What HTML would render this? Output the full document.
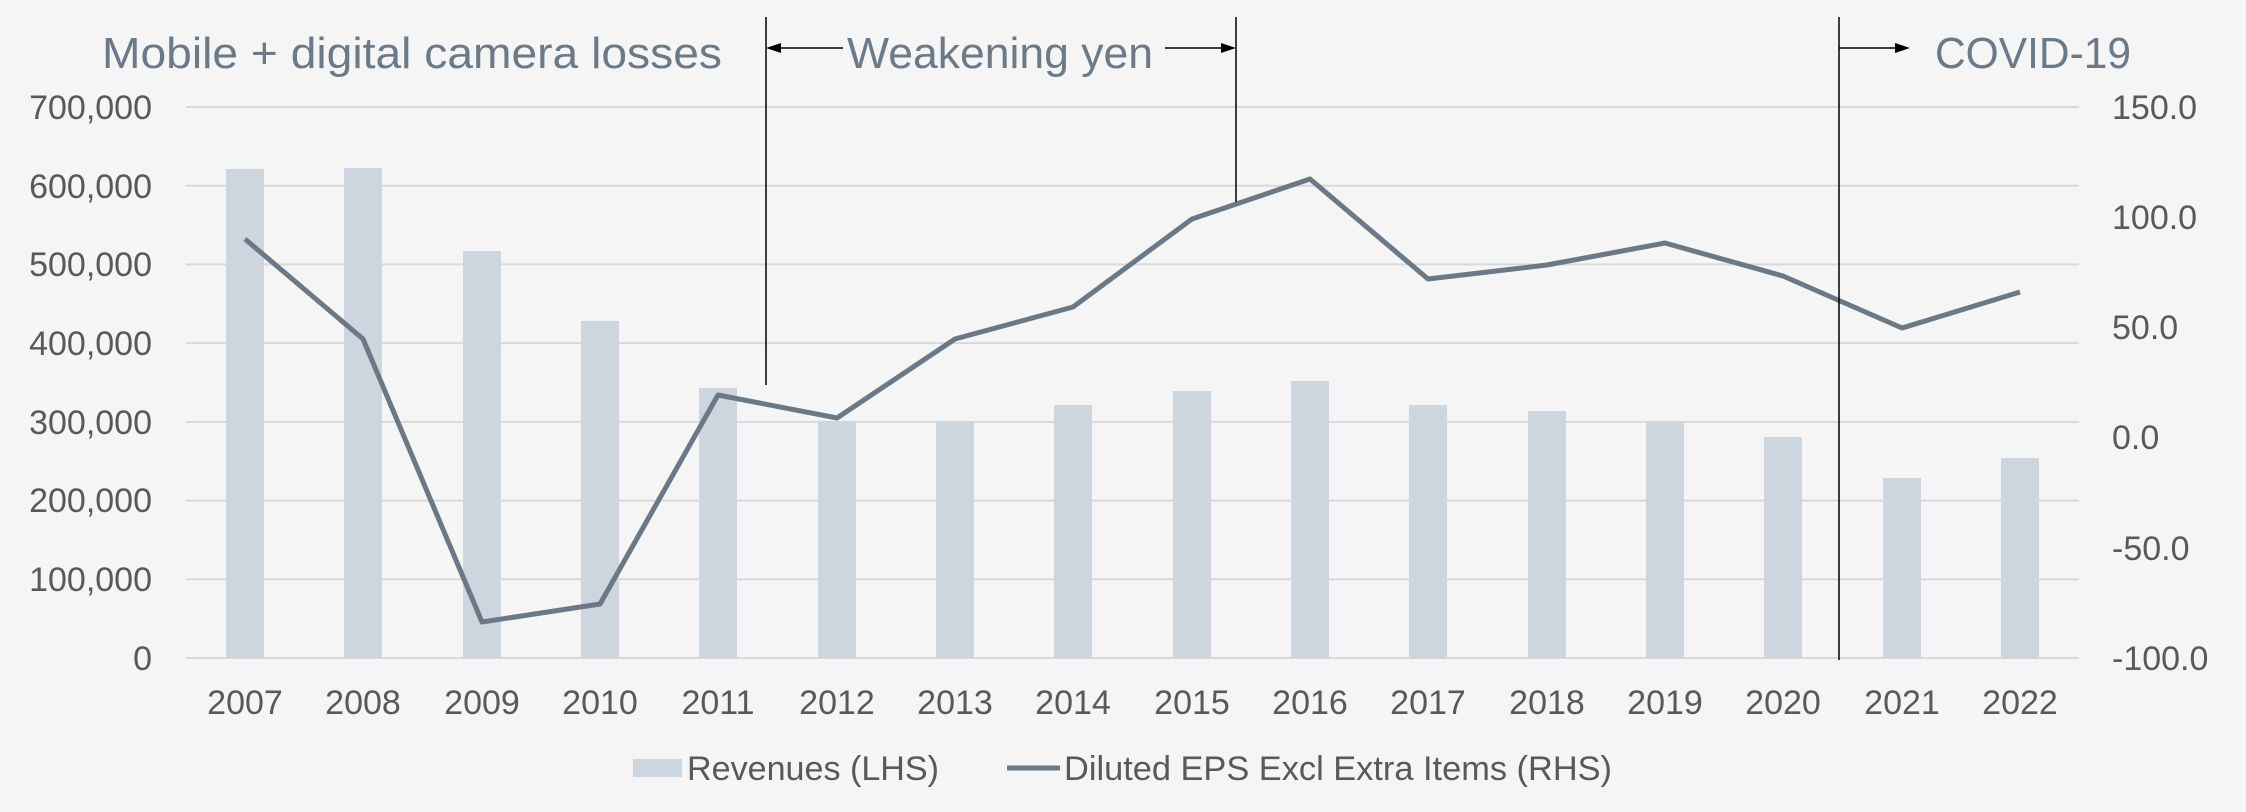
<!DOCTYPE html>
<html><head><meta charset="utf-8"><style>
html,body{margin:0;padding:0;background:#f5f5f5;}
svg{display:block;font-family:"Liberation Sans",sans-serif;}
</style></head><body>
<svg width="2246" height="812" viewBox="0 0 2246 812" xmlns="http://www.w3.org/2000/svg">
<rect width="2246" height="812" fill="#f5f5f5"/>
<g stroke="#d9d9d9" stroke-width="2">
<line x1="186" y1="107" x2="2079" y2="107"/>
<line x1="186" y1="185.7" x2="2079" y2="185.7"/>
<line x1="186" y1="264.4" x2="2079" y2="264.4"/>
<line x1="186" y1="343.1" x2="2079" y2="343.1"/>
<line x1="186" y1="421.9" x2="2079" y2="421.9"/>
<line x1="186" y1="500.6" x2="2079" y2="500.6"/>
<line x1="186" y1="579.3" x2="2079" y2="579.3"/>
<line x1="186" y1="658" x2="2079" y2="658"/>
</g>
<g fill="#cdd5de">
<rect x="226" y="169" width="38" height="489"/>
<rect x="344" y="168" width="38" height="490"/>
<rect x="463" y="251" width="38" height="407"/>
<rect x="581" y="321" width="38" height="337"/>
<rect x="699" y="388" width="38" height="270"/>
<rect x="818" y="421" width="38" height="237"/>
<rect x="936" y="421" width="38" height="237"/>
<rect x="1054" y="405" width="38" height="253"/>
<rect x="1173" y="391" width="38" height="267"/>
<rect x="1291" y="381" width="38" height="277"/>
<rect x="1409" y="405" width="38" height="253"/>
<rect x="1528" y="411" width="38" height="247"/>
<rect x="1646" y="421" width="38" height="237"/>
<rect x="1764" y="437" width="38" height="221"/>
<rect x="1883" y="478" width="38" height="180"/>
<rect x="2001" y="458" width="38" height="200"/>
</g>
<polyline fill="none" stroke="#6b7885" stroke-width="5" stroke-linejoin="round" points="245,239 363,339 482,622 600,604 718,395 837,418 955,339 1073,307 1192,219 1310,179 1428,279 1547,265 1665,243 1783,276 1902,328 2020,292"/>
<g stroke="#000" stroke-width="1.5" fill="none">
<line x1="766" y1="17" x2="766" y2="385"/>
<line x1="1236" y1="17" x2="1236" y2="202"/>
<line x1="1839" y1="17" x2="1839" y2="660"/>
<line x1="778" y1="48" x2="843" y2="48"/>
<line x1="1165" y1="48" x2="1224" y2="48"/>
<line x1="1839" y1="48" x2="1897" y2="48"/>
</g>
<g fill="#000">
<polygon points="766,48 781,43 781,53"/>
<polygon points="1236,48 1221,43 1221,53"/>
<polygon points="1910,48 1895,43 1895,53"/>
</g>
<g fill="#6b7a88" font-size="44">
<text x="102" y="68" textLength="620" lengthAdjust="spacingAndGlyphs">Mobile + digital camera losses</text>
<text x="847" y="68" textLength="306" lengthAdjust="spacingAndGlyphs">Weakening yen</text>
<text x="1935" y="68" textLength="196" lengthAdjust="spacingAndGlyphs">COVID-19</text>
</g>
<g fill="#595959" font-size="34" text-anchor="end">
<text x="152" y="119">700,000</text>
<text x="152" y="198">600,000</text>
<text x="152" y="276">500,000</text>
<text x="152" y="355">400,000</text>
<text x="152" y="434">300,000</text>
<text x="152" y="512">200,000</text>
<text x="152" y="591">100,000</text>
<text x="152" y="670">0</text>
</g>
<g fill="#595959" font-size="34">
<text x="2112" y="119">150.0</text>
<text x="2112" y="229">100.0</text>
<text x="2112" y="339">50.0</text>
<text x="2112" y="449">0.0</text>
<text x="2112" y="560">-50.0</text>
<text x="2112" y="670">-100.0</text>
</g>
<g fill="#595959" font-size="34" text-anchor="middle">
<text x="245" y="714">2007</text><text x="363" y="714">2008</text><text x="482" y="714">2009</text><text x="600" y="714">2010</text>
<text x="718" y="714">2011</text><text x="837" y="714">2012</text><text x="955" y="714">2013</text><text x="1073" y="714">2014</text>
<text x="1192" y="714">2015</text><text x="1310" y="714">2016</text><text x="1428" y="714">2017</text><text x="1547" y="714">2018</text>
<text x="1665" y="714">2019</text><text x="1783" y="714">2020</text><text x="1902" y="714">2021</text><text x="2020" y="714">2022</text>
</g>
<rect x="633" y="759" width="49" height="18" fill="#cdd5de"/>
<text x="687" y="780" fill="#595959" font-size="34" textLength="252" lengthAdjust="spacingAndGlyphs">Revenues (LHS)</text>
<line x1="1007" y1="768" x2="1060" y2="768" stroke="#6b7885" stroke-width="5"/>
<text x="1064" y="780" fill="#595959" font-size="34" textLength="548" lengthAdjust="spacingAndGlyphs">Diluted EPS Excl Extra Items (RHS)</text>
</svg>
</body></html>
